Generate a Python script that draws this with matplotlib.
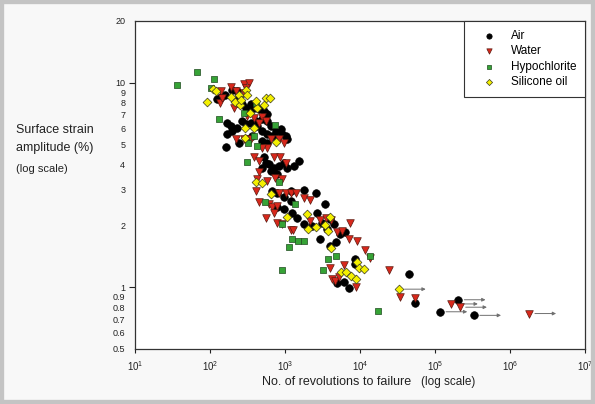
import matplotlib
matplotlib.use("Agg")
import matplotlib.pyplot as plt
from matplotlib.ticker import FixedLocator, NullLocator, FuncFormatter, LogLocator, LogFormatterSciNotation
from matplotlib.patches import Rectangle

plt.rcParams['font.family'] = ['Liberation Sans', 'DejaVu Sans']

# ---------------- data (cycles to failure, surface strain amplitude %) ----------------
air_x = [123, 139, 158, 198, 226, 243, 226, 269, 298, 348, 385, 449, 523, 580,
         170, 188, 170, 198, 231, 269, 298, 348, 405, 497, 580, 641, 748, 871,
         1016, 1069, 917, 787, 675, 580, 497, 427, 366, 314, 243, 162, 497, 580,
         523, 550, 497, 610, 710, 828, 965, 1069, 1311, 1528, 641, 787,
         675, 787, 965, 1184, 1781, 2624, 787, 965, 1245, 1452, 1781, 2298, 2680,
         3457, 4030, 4558, 1184, 2967, 3947, 4796, 5477, 6380, 4945, 6062, 7068,
         8496, 8670, 3120, 3636, 44400, 54400]
air_y = [8.30, 8.51, 8.71, 9.18, 9.11, 8.51, 7.99, 7.84, 7.55, 7.84, 7.55, 7.41, 7.28, 7.01,
         6.38, 6.15, 5.60, 5.81, 6.03, 6.50, 6.27, 6.38, 6.50, 6.63, 6.50, 6.15, 5.81, 5.92,
         5.49, 5.29, 5.60, 5.29, 5.49, 5.60, 5.81, 6.15, 5.49, 5.29, 5.10, 4.87, 5.19, 5.10,
         4.31, 4.07, 3.85, 4.00, 3.85, 3.92, 4.07, 3.85, 3.92, 4.12, 3.71, 3.57,
         2.96, 2.88, 2.75, 2.96, 2.99, 2.88, 2.46, 2.41, 2.32, 2.19, 2.04, 2.00, 2.32,
         2.55, 2.15, 2.04, 2.65, 1.72, 1.60, 1.66, 1.82, 1.86, 1.05, 1.06, 0.99,
         1.37, 1.30, 2.07, 1.93, 1.16, 0.84]
air_runout_x = [117000, 205000, 330000]
air_runout_y = [0.76, 0.87, 0.73]

water_x = [139, 188, 219, 283, 330, 298, 283, 136, 146, 209, 314, 385, 497, 550, 449,
           283, 219, 348, 641, 828, 965, 580, 497, 385, 449, 449, 710, 853, 1016,
           427, 725, 917, 580, 405, 828, 1016, 1184, 1409, 1781, 2183, 449, 610, 675,
           787, 550, 710, 771, 917, 1184, 1271, 2183, 2905, 3565, 4158, 4945, 5768,
           7434, 7068, 9120, 11770, 13720, 4030, 4237, 4700, 6062, 8935, 5200,
           24000, 34600, 54400]
water_y = [9.11, 9.52, 9.11, 9.89, 10.0, 9.38, 8.94, 7.91, 8.45, 7.55, 6.87, 6.74, 6.80, 6.50, 6.38,
           5.29, 5.29, 5.29, 5.29, 5.29, 5.10, 4.82, 4.82, 4.31, 4.12, 3.64, 4.31, 4.31, 4.07,
           3.37, 3.44, 3.37, 3.31, 2.96, 2.90, 2.88, 2.88, 2.88, 2.72, 2.67, 2.60, 2.55, 2.46,
           2.50, 2.19, 2.32, 2.07, 2.05, 1.91, 1.91, 2.11, 2.13, 2.18, 2.13, 1.86, 1.89,
           2.07, 1.72, 1.69, 1.52, 1.39, 1.25, 1.10, 1.08, 1.28, 1.00, 1.12,
           1.22, 0.90, 0.89]
water_runout_x = [162000, 214000, 1790000]
water_runout_y = [0.83, 0.80, 0.745]

hypo_x = [36, 67, 113, 102, 132, 413, 280, 740, 389, 324, 427, 314, 828, 544, 1380,
          917, 1245, 1496, 1781, 1125, 917, 3715, 4796, 13460, 3250, 17200]
hypo_y = [9.74, 11.3, 10.4, 9.46, 6.63, 7.96, 7.1, 6.2, 5.46, 5.1, 4.91, 4.09, 3.27, 2.61, 2.56,
          2.05, 1.73, 1.68, 1.68, 1.58, 1.22, 1.37, 1.43, 1.43, 1.21, 0.77]

sil_x = [91, 110, 120, 188, 213, 240, 304, 314, 248, 561, 635, 528, 427, 289, 389, 289,
         762, 340, 405, 256, 413, 497, 655, 1069, 1950, 2013, 2624, 3457, 3790, 4030,
         4158, 5649, 6580, 7670, 9220, 9800, 11400, 8935]
sil_y = [8.05, 9.27, 9.1, 8.51, 8.05, 8.71, 9.18, 8.71, 7.78, 8.42, 8.42, 7.78, 7.52, 6.03, 6.03, 5.39,
         5.15, 7.14, 8.14, 8.2, 3.27, 3.23, 2.86, 2.21, 2.29, 1.93, 1.98, 2.02, 1.88, 2.21,
         1.55, 1.19, 1.19, 1.14, 1.33, 1.25, 1.23, 1.10]
sil_runout_x = [32700]
sil_runout_y = [0.98]

series_names = ["Air", "Water", "Hypochlorite", "Silicone oil"]
y_tick_values = [0.5, 0.6, 0.7, 0.8, 0.9, 1, 2, 3, 4, 5, 6, 7, 8, 9, 10, 20]

# ---------------- figure ----------------
W, H = 595, 404
fig = plt.figure(figsize=(W / 100, H / 100), dpi=100, facecolor='#f8f8f8')
fig.patches.append(Rectangle((0, 0), 1, 1, transform=fig.transFigure, fill=False,
                             edgecolor='#c4c4c4', linewidth=6, zorder=0))
ax = fig.add_axes([135 / W, 1 - 349 / H, 450 / W, 328 / H])
ax.set_facecolor('white')
ax.set_xscale('log')
ax.set_yscale('log')
ax.set_xlim(10, 1e7)
ax.set_ylim(0.5, 20)

styles = [
    dict(marker='o', s=30, c='black', edgecolors='black', linewidths=0.5),
    dict(marker='v', s=30, c='#d8281c', edgecolors='#5a1a10', linewidths=0.5),
    dict(marker='s', s=22, c='#36a336', edgecolors='#1e4a1e', linewidths=0.5),
    dict(marker='D', s=20, c='#f4f000', edgecolors='#3a3a20', linewidths=0.5),
]

sets = [(air_x + air_runout_x, air_y + air_runout_y),
        (water_x + water_runout_x, water_y + water_runout_y),
        (hypo_x, hypo_y),
        (sil_x + sil_runout_x, sil_y + sil_runout_y)]

handles = []
for i, ((xs, ys), st, name) in enumerate(zip(sets, styles, series_names)):
    h = ax.scatter(xs, ys, label=name, zorder=3 + i, **st)
    handles.append(h)

# run-out arrows
for rx, ry in [(air_runout_x, air_runout_y), (water_runout_x, water_runout_y),
               (sil_runout_x, sil_runout_y)]:
    for x, y in zip(rx, ry):
        ax.annotate('', xy=(x * 2.3, y), xytext=(x * 1.2, y),
                    arrowprops=dict(arrowstyle='-|>', color='#707070', lw=0.7,
                                    mutation_scale=5, shrinkA=0, shrinkB=0),
                    zorder=2)

# ticks
ax.xaxis.set_major_locator(LogLocator(base=10, numticks=10))
ax.xaxis.set_major_formatter(LogFormatterSciNotation())
ax.xaxis.set_minor_locator(NullLocator())
ax.tick_params(axis='x', which='major', direction='out', length=3, width=0.8,
               labelsize=7, pad=4, colors='#222222')

ax.yaxis.set_major_locator(FixedLocator([1, 10]))
ax.yaxis.set_minor_locator(FixedLocator([v for v in y_tick_values if v not in (1, 10)]))
fmt = FuncFormatter(lambda v, p: '{:g}'.format(v))
ax.yaxis.set_major_formatter(fmt)
ax.yaxis.set_minor_formatter(fmt)
ax.tick_params(axis='y', which='major', direction='out', length=4, width=0.8,
               labelsize=6.5, pad=3, colors='#222222')
ax.tick_params(axis='y', which='minor', length=0, labelsize=6.5, pad=7, colors='#222222')

for sp in ax.spines.values():
    sp.set_color('#333333')
    sp.set_linewidth(0.9)

# axis titles
fig.text(262 / W, 1 - 382 / H, "No. of revolutions to failure", fontsize=9,
         color='#222222', ha='left', va='center')
fig.text(421 / W, 1 - 382 / H, "(log scale)", fontsize=8.5,
         color='#222222', ha='left', va='center')
fig.text(16 / W, 1 - 130 / H, "Surface strain", fontsize=9, color='#222222',
         ha='left', va='center')
fig.text(16 / W, 1 - 148 / H, "amplitude (%)", fontsize=9, color='#222222',
         ha='left', va='center')
fig.text(16 / W, 1 - 169 / H, "(log scale)", fontsize=8, color='#222222',
         ha='left', va='center')

leg = ax.legend(handles=handles, loc='upper right', borderaxespad=0, fancybox=False,
                edgecolor='#333333', fontsize=8.5, markerscale=0.7, borderpad=0.75,
                labelspacing=0.3, handlelength=2.7, handletextpad=0.5, scatterpoints=1,
                framealpha=1)
leg.get_frame().set_linewidth(0.8)
leg.set_zorder(10)

fig.savefig("out.png", dpi=100, facecolor=fig.get_facecolor())
